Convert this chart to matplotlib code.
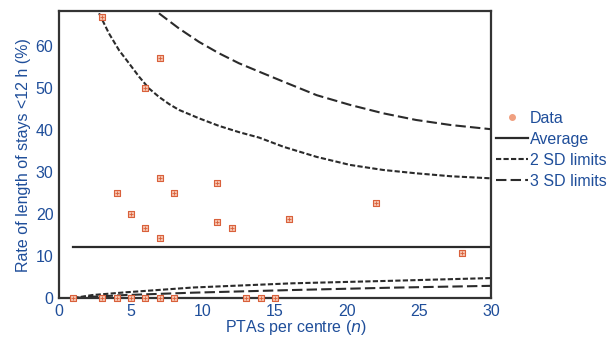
import matplotlib.pyplot as plt
from matplotlib.lines import Line2D

# data points (PTAs per centre, rate %)
pta_n = [3, 7, 6, 7, 4, 8, 11, 5, 6, 7, 11, 12, 16, 22, 28,
         1, 3, 4, 5, 6, 7, 8, 13, 14, 15]
rate = [67.0, 57.2, 50.0, 28.6, 25.0, 25.0, 27.3, 20.0, 16.7, 14.3, 18.2, 16.7, 18.7, 22.7, 10.7,
        0, 0, 0, 0, 0, 0, 0, 0, 0, 0]

average = 12.2
avg_x = [1, 30]

# control limits
up2_x = [2.78, 3.47, 4.17, 4.86, 5.56, 6.25, 6.94, 7.64, 8.33, 9.72, 11.1, 12.5, 13.9,
         15.6, 17.9, 20.2, 22.5, 24.8, 27.2, 30]
up2_y = [67.8, 63.0, 59.0, 55.9, 52.7, 49.9, 47.9, 46.2, 44.8, 42.8, 41.0, 39.5, 38.2,
         36.0, 33.6, 31.7, 30.5, 29.7, 29.0, 28.5]
up3_x = [6.94, 8.33, 9.72, 11.1, 12.5, 13.9, 15.6, 17.9, 20.2, 22.5, 24.8, 27.2, 30]
up3_y = [67.8, 64.2, 61.0, 58.3, 55.9, 53.9, 51.5, 48.3, 46.0, 44.0, 42.4, 41.2, 40.2]
lo2_x = [1, 2.3, 4.6, 9.3, 16.2, 23.1, 30]
lo2_y = [0, 0.7, 1.35, 2.5, 3.5, 4.1, 4.75]
lo3_x = [1, 2.3, 4.6, 9.3, 16.2, 23.1, 30]
lo3_y = [0, 0.3, 0.7, 1.27, 1.9, 2.46, 2.9]

blue = '#1f4e9a'
dark = '#2b2b2b'
plt.rcParams['font.family'] = ['Liberation Sans', 'DejaVu Sans']

fig = plt.figure(figsize=(6.11, 3.37), dpi=100)
ax = fig.add_axes([0.0966, 0.1157, 0.707, 0.851])

ax.plot(avg_x, [average, average], color=dark, lw=1.6)
ax.plot(up2_x, up2_y, color=dark, lw=1.5, dashes=(2.5, 1.1))
ax.plot(lo2_x, lo2_y, color=dark, lw=1.5, dashes=(2.5, 1.1))
ax.plot(up3_x, up3_y, color=dark, lw=1.5, dashes=(5, 2))
ax.plot(lo3_x, lo3_y, color=dark, lw=1.5, dashes=(5, 2))
ax.scatter(pta_n, rate, marker='s', s=16, facecolor='#f6c3ae', edgecolor='#d9603b',
           linewidth=0.8, zorder=3, clip_on=False)
ax.scatter(pta_n, rate, marker='+', s=10, color='#d9603b', linewidth=0.6, zorder=4, clip_on=False)

ax.set_xlim(0, 30)
ax.set_ylim(0, 68.3)
ax.set_xticks(range(0, 31, 5))
ax.set_yticks(range(0, 61, 10))
ax.tick_params(length=0, labelsize=11.5, labelcolor=blue)
ax.tick_params(axis='x', pad=4)
ax.tick_params(axis='y', pad=4)
for s in ax.spines.values():
    s.set_linewidth(1.6)
    s.set_color('#333333')
ax.set_xlabel('PTAs per centre ($\\it{n}$)', color=blue, fontsize=11.5)
ax.xaxis.set_label_coords(0.549, -0.07)
ax.set_ylabel('Rate of length of stays <12 h (%)', color=blue, fontsize=11.5, labelpad=3)

handles = [
    Line2D([], [], marker='o', ls='none', markersize=4, color='#f0a080'),
    Line2D([], [], color=dark, lw=1.6),
    Line2D([], [], color=dark, lw=1.5, dashes=(2.5, 1.1)),
    Line2D([], [], color=dark, lw=1.5, dashes=(5, 2)),
]
labels = ['Data', 'Average', '2 SD limits', '3 SD limits']
leg = fig.legend(handles, labels, loc='center left', bbox_to_anchor=(0.812, 0.556),
                 frameon=False, fontsize=11.5, handlelength=2.0, handletextpad=0.12,
                 labelspacing=0.38, borderpad=0, borderaxespad=0)
for t in leg.get_texts():
    t.set_color(blue)

fig.savefig('out.png', dpi=100)
